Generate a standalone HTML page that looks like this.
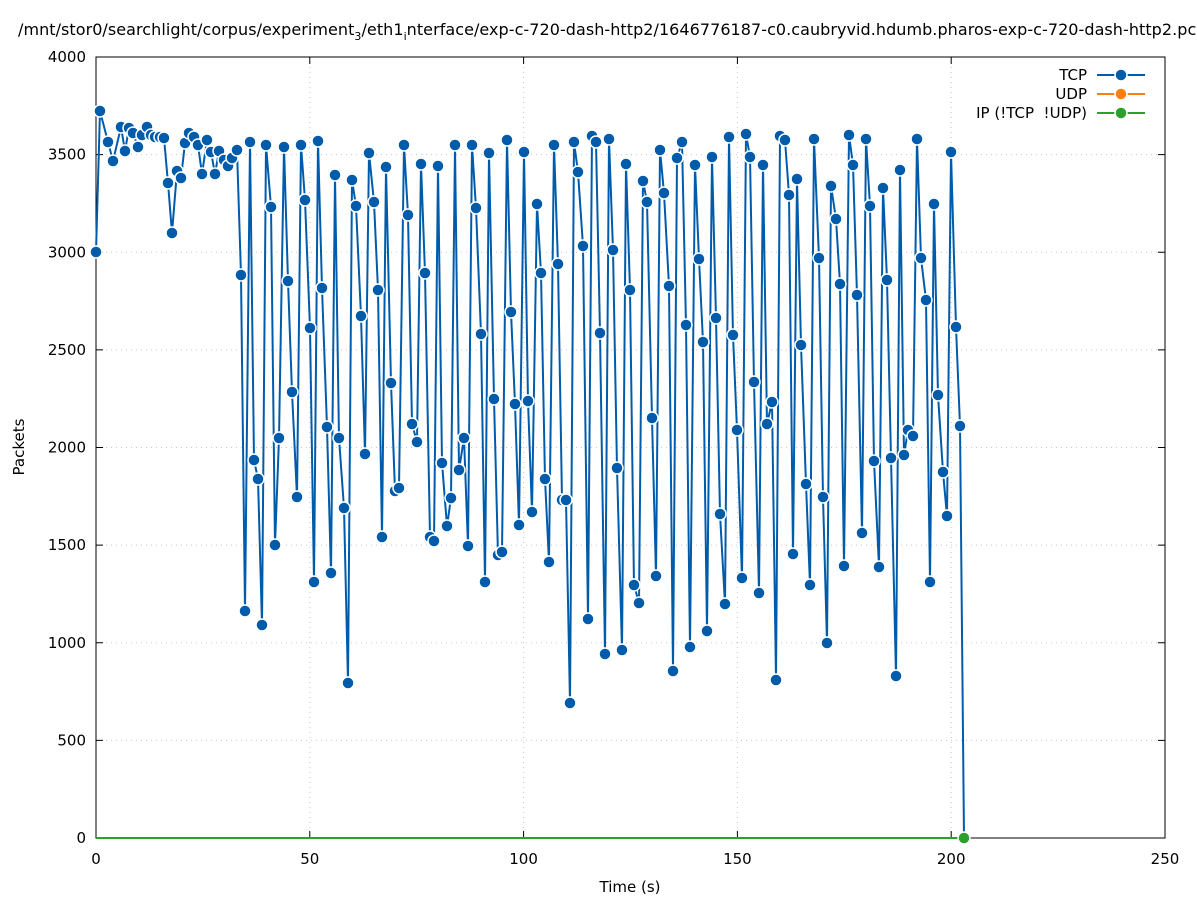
<!DOCTYPE html>
<html><head><meta charset="utf-8"><style>
html,body{margin:0;padding:0;background:#fff;overflow:hidden;}
svg text{font-family:"DejaVu Sans","Liberation Sans",sans-serif;fill:#000;}
</style></head><body>
<svg id="s" width="1197" height="900" xmlns="http://www.w3.org/2000/svg">
<rect width="1197" height="900" fill="#fff"/>
<g id="grid" stroke="#c8c8c8" stroke-width="1" stroke-dasharray="1,4"></g>
<rect x="96" y="57" width="1069" height="781" fill="none" stroke="#000" stroke-width="1"/>
<g id="ticks" stroke="#000" stroke-width="1"></g>
<g id="labels" font-size="15"></g>
<text x="18" y="35" font-size="16" letter-spacing="0.05">/mnt/stor0/searchlight/corpus/experiment<tspan font-size="11" dy="5">3</tspan><tspan dy="-5">/eth1</tspan><tspan font-size="11" dy="5">i</tspan><tspan dy="-5">nterface/exp-c-720-dash-http2/1646776187-c0.caubryvid.hdumb.pharos-exp-c-720-dash-http2.pcap</tspan></text>
<text x="630" y="892" font-size="15" text-anchor="middle">Time (s)</text>
<text transform="translate(24,447) rotate(-90)" font-size="15" text-anchor="middle">Packets</text>
<line x1="96" y1="838" x2="964" y2="838" stroke="#2ca02c" stroke-width="2"/>
<polyline id="tcp" fill="none" stroke="#005cab" stroke-width="2"/>
<g id="pts" fill="#005cab" stroke="#fff" stroke-width="1.5"></g>
<circle cx="964" cy="838" r="6" fill="#2ca02c" stroke="#fff" stroke-width="1.5"/>
<g font-size="15" text-anchor="end">
<text x="1087" y="80">TCP</text>
<text x="1087" y="99">UDP</text>
<text x="1087" y="118" xml:space="preserve">IP (!TCP  !UDP)</text>
</g>
<g stroke-width="2">
<line x1="1097" y1="75" x2="1145" y2="75" stroke="#005cab"/><circle cx="1121" cy="75" r="6" fill="#005cab" stroke="#fff" stroke-width="1.5"/>
<line x1="1097" y1="94" x2="1145" y2="94" stroke="#ff7f0e"/><circle cx="1121" cy="94" r="6" fill="#ff7f0e" stroke="#fff" stroke-width="1.5"/>
<line x1="1097" y1="113" x2="1145" y2="113" stroke="#2ca02c"/><circle cx="1121" cy="113" r="6" fill="#2ca02c" stroke="#fff" stroke-width="1.5"/>
</g>
</svg>
<script>
var ns="http://www.w3.org/2000/svg";
function el(t,a,p){var e=document.createElementNS(ns,t);for(var k in a)e.setAttribute(k,a[k]);p.appendChild(e);return e;}
var g=document.getElementById('grid'),tk=document.getElementById('ticks'),lb=document.getElementById('labels');
for(var i=0;i<=5;i++){var x=96+i*213.8;if(i>0&&i<5)el('line',{x1:x,y1:57,x2:x,y2:838},g);
el('line',{x1:x,y1:838,x2:x,y2:831},tk);el('line',{x1:x,y1:57,x2:x,y2:64},tk);
var t=el('text',{x:x,y:864,'text-anchor':'middle'},lb);t.textContent=i*50;}
for(var j=0;j<=8;j++){var y=838-j*97.625;if(j>0&&j<8)el('line',{x1:96,y1:y,x2:1165,y2:y},g);
el('line',{x1:96,y1:y,x2:103,y2:y},tk);el('line',{x1:1165,y1:y,x2:1158,y2:y},tk);
var t=el('text',{x:86,y:y+5,'text-anchor':'end'},lb);t.textContent=j*500;}
var P=[96,252,100,111,108,142,113,161,121,127,125,151,129,128,133,133,138,147,142,135,147,127,151,135,155,137,160,137,164,138,168,183,172,233,177,171,181,178,185,143,189,133,194,137,198,145,202,174,207,140,211,152,215,174,219,151,224,160,228,166,232,158,237,150,241,275,245,611,250,142,254,460,258,479,262,625,266,145,271,207,275,545,279,438,284,147,288,281,292,392,297,497,301,145,305,200,310,328,314,582,318,141,322,288,327,427,331,573,335,175,339,438,344,508,348,683,352,180,356,206,361,316,365,454,369,153,374,202,378,290,382,537,386,167,391,383,395,491,399,488,404,145,408,215,412,424,417,442,421,164,425,273,430,537,434,541,438,166,442,463,447,526,451,498,455,145,459,470,464,438,468,546,472,145,476,208,481,334,485,582,489,153,494,399,498,555,502,552,507,140,511,312,515,404,519,525,524,152,528,401,532,512,537,204,541,273,545,479,549,562,554,145,558,264,562,500,566,500,570,703,574,142,578,172,583,246,588,619,592,136,596,142,600,333,605,654,609,139,613,250,617,468,622,650,626,164,630,290,634,585,639,603,643,181,647,202,652,418,656,576,660,150,664,193,669,286,673,671,677,158,682,142,686,325,690,647,695,165,699,259,703,342,707,631,712,157,716,318,720,514,725,604,729,137,733,335,737,430,742,578,746,134,750,157,754,382,759,593,763,165,767,424,772,402,776,680,780,136,785,140,789,195,793,554,797,179,801,345,806,484,810,585,814,139,819,258,823,497,827,643,831,186,836,219,840,284,844,566,849,135,853,165,857,295,862,533,866,139,870,206,874,461,879,567,883,188,887,280,891,458,896,676,900,170,904,455,908,430,913,436,917,139,921,258,926,300,930,582,934,204,938,395,943,472,947,516,951,152,956,327,960,426];
var s="";var pg=document.getElementById('pts');
for(var k=0;k<P.length;k+=2){s+=P[k]+","+P[k+1]+" ";el('circle',{cx:P[k],cy:P[k+1],r:6},pg);}
s+="964,838";
document.getElementById('tcp').setAttribute('points',s);
</script>
</body></html>
